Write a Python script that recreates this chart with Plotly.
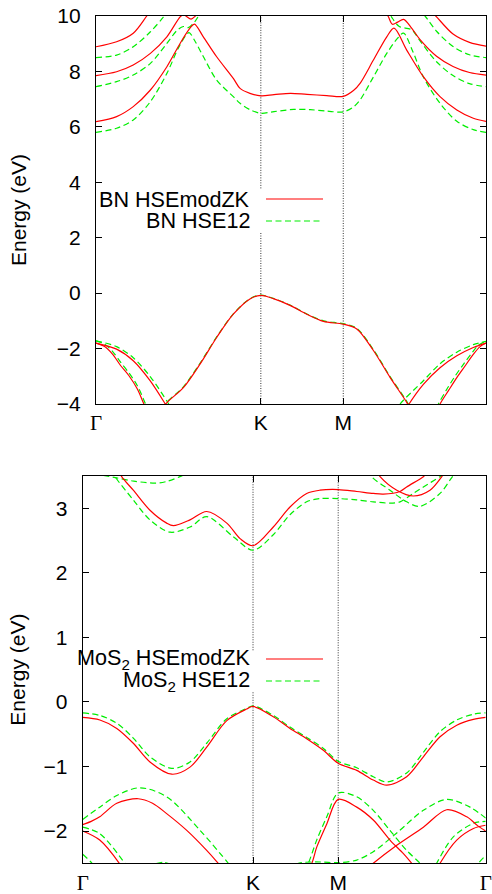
import math
import plotly.graph_objects as go

# ---------------------------------------------------------------
# k-path Gamma-K-M-Gamma of the hexagonal Brillouin zone
# (|GK| = 1, |KM| = 1/2, |MG| = sqrt(3)/2)
# ---------------------------------------------------------------
K_POS = 1.0
M_POS = 1.5
G_END = 1.5 + math.sqrt(3) / 2
TICK_POS = [0.0, K_POS, M_POS, G_END]
TICK_TXT = ["Γ", "K", "M", "Γ"]

# ---------------------------------------------------------------
# h-BN, HSEmodZK (red)
# ---------------------------------------------------------------
bn_zk_c1_k = [0, 0.125, 0.226, 0.33, 0.43, 0.51, 0.57, 0.597, 0.651, 0.732, 0.833, 0.874, 0.934, 1.0,
              1.08, 1.18, 1.28, 1.4, 1.5, 1.562, 1.602, 1.683, 1.764, 1.808, 1.885, 1.986, 2.087, 2.189,
              2.289, 2.366]
bn_zk_c1_e = [6.19, 6.37, 6.73, 7.33, 8.17, 9.01, 9.56, 9.71, 9.25, 8.53, 7.75, 7.39, 7.21, 7.12,
              7.16, 7.21, 7.17, 7.13, 7.10, 7.31, 7.57, 8.41, 9.25, 9.56, 8.77, 7.81, 7.09, 6.61,
              6.31, 6.20]
bn_zk_c2a_k = [0, 0.125, 0.226, 0.33, 0.43, 0.516, 0.535, 0.577, 0.607, 0.65]
bn_zk_c2a_e = [7.85, 7.99, 8.23, 8.65, 9.25, 10.0, 10.03, 9.89, 10.02, 10.3]
bn_zk_c2b_k = [1.746, 1.774, 1.798, 1.83, 1.866, 1.916, 1.966, 2.066, 2.166, 2.266, 2.366]
bn_zk_c2b_e = [10.3, 9.97, 9.70, 9.78, 9.88, 9.55, 9.15, 8.55, 8.18, 7.96, 7.87]
bn_zk_c3a_k = [0, 0.125, 0.226, 0.308, 0.36]
bn_zk_c3a_e = [8.89, 9.07, 9.38, 10.0, 10.4]
bn_zk_c3b_k = [2.0, 2.066, 2.166, 2.266, 2.366]
bn_zk_c3b_e = [10.4, 9.97, 9.35, 9.05, 8.91]
bn_zk_pi_k = [0.38, 0.42, 0.53, 0.631, 0.732, 0.833, 0.934, 1.0, 1.076, 1.177, 1.279, 1.38, 1.5,
              1.582, 1.683, 1.784, 1.885, 1.92]
bn_zk_pi_e = [-4.5, -4.02, -3.41, -2.56, -1.6, -0.76, -0.21, -0.08, -0.2, -0.44, -0.76, -1.02, -1.12,
              -1.29, -2.07, -3.04, -3.94, -4.3]
bn_zk_s1a_k = [0, 0.125, 0.226, 0.328, 0.419, 0.45]
bn_zk_s1a_e = [-1.8, -2.02, -2.44, -3.16, -3.99, -4.3]
bn_zk_s2a_k = [0, 0.05, 0.1, 0.15, 0.2, 0.25, 0.29, 0.32]
bn_zk_s2a_e = [-1.8, -1.92, -2.2, -2.62, -2.98, -3.45, -3.99, -4.4]
bn_zk_s1b_k = [1.87, 1.899, 1.986, 2.087, 2.189, 2.289, 2.366]
bn_zk_s1b_e = [-4.3, -4.0, -3.29, -2.69, -2.26, -1.96, -1.8]
bn_zk_s2b_k = [2.05, 2.087, 2.14, 2.19, 2.24, 2.29, 2.33, 2.366]
bn_zk_s2b_e = [-4.45, -4.0, -3.5, -3.04, -2.62, -2.2, -1.93, -1.8]

# ---------------------------------------------------------------
# h-BN, HSE12 (green)
# ---------------------------------------------------------------
bn_12_c1_k = [0, 0.125, 0.226, 0.33, 0.43, 0.5, 0.545, 0.565, 0.6, 0.65, 0.732, 0.833, 0.874, 0.934,
              1.0, 1.08, 1.2, 1.3, 1.4, 1.5, 1.562, 1.602, 1.683, 1.764, 1.83, 1.866, 1.92, 1.986,
              2.087, 2.189, 2.289, 2.366]
bn_12_c1_e = [5.80, 5.95, 6.25, 6.91, 7.93, 8.85, 9.3, 9.4, 9.1, 8.55, 7.69, 7.09, 6.85, 6.62,
              6.49, 6.55, 6.63, 6.62, 6.57, 6.54, 6.72, 6.97, 7.8, 8.65, 9.2, 9.38, 8.75, 7.8,
              6.85, 6.2, 5.9, 5.80]
bn_12_c2a_k = [0, 0.125, 0.226, 0.33, 0.43, 0.49, 0.53, 0.56, 0.6, 0.64]
bn_12_c2a_e = [7.45, 7.63, 7.87, 8.29, 9.01, 9.47, 9.62, 9.58, 9.8, 10.2]
bn_12_c2b_k = [1.76, 1.8, 1.84, 1.916, 1.966, 2.066, 2.166, 2.266, 2.366]
bn_12_c2b_e = [10.3, 9.9, 9.62, 9.5, 9.1, 8.35, 7.85, 7.56, 7.45]
bn_12_c3a_k = [0, 0.125, 0.226, 0.33, 0.41, 0.45]
bn_12_c3a_e = [8.5, 8.59, 8.89, 9.43, 9.97, 10.3]
bn_12_c3b_k = [1.95, 1.996, 2.066, 2.166, 2.266, 2.366]
bn_12_c3b_e = [10.3, 10.0, 9.45, 8.9, 8.6, 8.5]
bn_12_pi_k = bn_zk_pi_k
bn_12_pi_e = [-4.48, -4.0, -3.38, -2.53, -1.58, -0.75, -0.2, -0.07, -0.19, -0.43, -0.75, -1.0, -1.1,
              -1.27, -2.04, -3.01, -3.9, -4.28]
bn_12_s1a_k = [0, 0.125, 0.226, 0.33, 0.44, 0.47]
bn_12_s1a_e = [-1.72, -1.93, -2.33, -3.02, -3.99, -4.3]
bn_12_s2a_k = [0, 0.05, 0.1, 0.15, 0.2, 0.25, 0.30, 0.33]
bn_12_s2a_e = [-1.72, -1.83, -2.1, -2.5, -2.88, -3.33, -3.99, -4.4]
bn_12_s1b_k = [1.815, 1.845, 1.986, 2.087, 2.189, 2.289, 2.366]
bn_12_s1b_e = [-4.3, -4.0, -3.16, -2.55, -2.13, -1.86, -1.74]
bn_12_s2b_k = [2.04, 2.077, 2.13, 2.18, 2.23, 2.28, 2.32, 2.366]
bn_12_s2b_e = [-4.45, -4.0, -3.45, -2.98, -2.56, -2.16, -1.88, -1.74]

# ---------------------------------------------------------------
# MoS2, HSEmodZK (red)
# ---------------------------------------------------------------
mos_zk_c1_k = [0.21, 0.229, 0.297, 0.395, 0.493, 0.532, 0.63, 0.728, 0.846, 0.924, 1.0, 1.119, 1.217,
               1.315, 1.393, 1.5, 1.609, 1.706, 1.765, 1.863, 1.902, 2.0, 2.03]
mos_zk_c1_e = [3.6, 3.49, 3.28, 2.97, 2.77, 2.73, 2.82, 2.95, 2.77, 2.53, 2.42, 2.71, 3.02,
               3.23, 3.28, 3.29, 3.26, 3.23, 3.22, 3.26, 3.33, 3.49, 3.56]
mos_zk_c2_k = [1.72, 1.746, 1.844, 1.941, 2.039, 2.108, 2.13]
mos_zk_c2_e = [3.6, 3.49, 3.28, 3.19, 3.28, 3.49, 3.58]
mos_zk_v1_k = [0, 0.101, 0.2, 0.297, 0.395, 0.523, 0.63, 0.728, 0.846, 0.963, 1.0, 1.119, 1.217,
               1.315, 1.413, 1.5, 1.609, 1.706, 1.785, 1.902, 2.0, 2.098, 2.196, 2.294, 2.366]
mos_zk_v1_e = [-0.24, -0.28, -0.41, -0.64, -0.93, -1.12, -1.01, -0.7, -0.29, -0.11, -0.07, -0.23, -0.41,
               -0.57, -0.75, -0.95, -1.06, -1.21, -1.29, -1.16, -0.85, -0.54, -0.36, -0.27, -0.24]
mos_zk_v2a_k = [0, 0.05, 0.1, 0.2, 0.326, 0.41, 0.493, 0.611, 0.728, 0.796, 0.85]
mos_zk_v2a_e = [-1.9, -1.85, -1.78, -1.57, -1.5, -1.57, -1.73, -1.99, -2.3, -2.5, -2.66]
mos_zk_v2b_k = [1.29, 1.345, 1.374, 1.433, 1.5, 1.609, 1.706, 1.804, 1.883, 1.932, 1.98]
mos_zk_v2b_e = [-2.75, -2.5, -2.25, -1.89, -1.51, -1.63, -1.83, -2.14, -2.35, -2.5, -2.65]
mos_zk_v3_k = [0, 0.1, 0.215, 0.25]
mos_zk_v3_e = [-2.0, -2.14, -2.5, -2.65]
mos_zk_v5_k = [1.64, 1.706, 1.844, 2.0, 2.137, 2.255, 2.32, 2.366]
mos_zk_v5_e = [-2.65, -2.5, -2.22, -1.94, -1.67, -1.78, -1.92, -2.0]
mos_zk_v6_k = [2.07, 2.098, 2.196, 2.294, 2.366]
mos_zk_v6_e = [-2.65, -2.5, -2.14, -1.96, -1.91]

# ---------------------------------------------------------------
# MoS2, HSE12 (green)
# ---------------------------------------------------------------
mos_12_c1_k = [0.17, 0.19, 0.297, 0.395, 0.513, 0.63, 0.728, 0.884, 1.0, 1.119, 1.217, 1.315, 1.393,
               1.5, 1.609, 1.706, 1.804, 1.863, 1.941, 2.0, 2.098, 2.13]
mos_12_c1_e = [3.6, 3.49, 3.13, 2.82, 2.63, 2.71, 2.87, 2.56, 2.35, 2.59, 2.9, 3.1, 3.15,
               3.15, 3.13, 3.1, 3.08, 3.1, 3.23, 3.33, 3.49, 3.55]
mos_12_c2_k = [1.68, 1.697, 1.804, 1.902, 1.98, 2.098, 2.157, 2.19]
mos_12_c2_e = [3.6, 3.49, 3.28, 3.1, 3.03, 3.23, 3.44, 3.56]
mos_12_c3_k = [0.12, 0.2, 0.3, 0.434, 0.5, 0.571, 0.62]
mos_12_c3_e = [3.51, 3.47, 3.42, 3.39, 3.42, 3.49, 3.55]
mos_12_v1_k = mos_zk_v1_k
mos_12_v1_e = [-0.17, -0.21, -0.33, -0.56, -0.85, -1.03, -0.93, -0.64, -0.26, -0.1, -0.06, -0.21, -0.39,
               -0.55, -0.72, -0.92, -1.02, -1.16, -1.24, -1.1, -0.78, -0.46, -0.28, -0.19, -0.17]
mos_12_v2a_k = [0, 0.1, 0.2, 0.336, 0.493, 0.689, 0.855, 0.9]
mos_12_v2a_e = [-1.82, -1.63, -1.45, -1.33, -1.47, -1.99, -2.5, -2.65]
mos_12_v2b_k = [1.28, 1.325, 1.374, 1.433, 1.5, 1.609, 1.706, 1.804, 1.902, 1.981, 2.03]
mos_12_v2b_e = [-2.75, -2.5, -2.14, -1.78, -1.41, -1.47, -1.68, -1.99, -2.3, -2.5, -2.65]
mos_12_v3_k = [0, 0.1, 0.248, 0.28]
mos_12_v3_e = [-1.94, -2.04, -2.5, -2.62]
mos_12_v4a_k = [0, 0.055, 0.08]
mos_12_v4a_e = [-2.36, -2.5, -2.6]
mos_12_v4b_k = [2.3, 2.323, 2.366]
mos_12_v4b_e = [-2.6, -2.5, -2.38]
mos_12_v5_k = [1.2, 1.286, 1.4, 1.5, 1.609, 1.706, 1.844, 2.0, 2.137, 2.274, 2.366]
mos_12_v5_e = [-2.56, -2.49, -2.48, -2.49, -2.45, -2.32, -2.03, -1.68, -1.51, -1.63, -1.8]
mos_12_v6_k = [2.05, 2.078, 2.176, 2.294, 2.366]
mos_12_v6_e = [-2.65, -2.5, -2.09, -1.88, -1.85]
mos_12_v7_k = [0.38, 0.47, 0.56]
mos_12_v7_e = [-2.56, -2.485, -2.56]

BN_RED = [(bn_zk_c1_k, bn_zk_c1_e), (bn_zk_c2a_k, bn_zk_c2a_e), (bn_zk_c2b_k, bn_zk_c2b_e),
          (bn_zk_c3a_k, bn_zk_c3a_e), (bn_zk_c3b_k, bn_zk_c3b_e), (bn_zk_pi_k, bn_zk_pi_e),
          (bn_zk_s1a_k, bn_zk_s1a_e), (bn_zk_s2a_k, bn_zk_s2a_e), (bn_zk_s1b_k, bn_zk_s1b_e),
          (bn_zk_s2b_k, bn_zk_s2b_e)]
BN_GREEN = [(bn_12_c1_k, bn_12_c1_e), (bn_12_c2a_k, bn_12_c2a_e), (bn_12_c2b_k, bn_12_c2b_e),
            (bn_12_c3a_k, bn_12_c3a_e), (bn_12_c3b_k, bn_12_c3b_e), (bn_12_pi_k, bn_12_pi_e),
            (bn_12_s1a_k, bn_12_s1a_e), (bn_12_s2a_k, bn_12_s2a_e), (bn_12_s1b_k, bn_12_s1b_e),
            (bn_12_s2b_k, bn_12_s2b_e)]
MOS_RED = [(mos_zk_c1_k, mos_zk_c1_e), (mos_zk_c2_k, mos_zk_c2_e), (mos_zk_v1_k, mos_zk_v1_e),
           (mos_zk_v2a_k, mos_zk_v2a_e), (mos_zk_v2b_k, mos_zk_v2b_e), (mos_zk_v3_k, mos_zk_v3_e),
           (mos_zk_v5_k, mos_zk_v5_e), (mos_zk_v6_k, mos_zk_v6_e)]
MOS_GREEN = [(mos_12_c1_k, mos_12_c1_e), (mos_12_c2_k, mos_12_c2_e), (mos_12_c3_k, mos_12_c3_e),
             (mos_12_v1_k, mos_12_v1_e), (mos_12_v2a_k, mos_12_v2a_e), (mos_12_v2b_k, mos_12_v2b_e),
             (mos_12_v3_k, mos_12_v3_e), (mos_12_v4a_k, mos_12_v4a_e), (mos_12_v4b_k, mos_12_v4b_e),
             (mos_12_v5_k, mos_12_v5_e), (mos_12_v6_k, mos_12_v6_e), (mos_12_v7_k, mos_12_v7_e)]

RED = "#ff0000"
GREEN = "#00ee00"
GREEN_DASH = "6px,3.5px"
SANS = "Liberation Sans, Arial, sans-serif"

W, H = 492, 894
fig = go.Figure()


def add_bands(bands, color, dash, xa, ya):
    for k, e in bands:
        fig.add_trace(go.Scatter(
            x=k, y=e, mode="lines", xaxis=xa, yaxis=ya, showlegend=False,
            line=dict(color=color, width=1.2, dash=dash, shape="spline", smoothing=0.9),
            hoverinfo="skip"))


add_bands(BN_GREEN, GREEN, GREEN_DASH, "x", "y")
add_bands(BN_RED, RED, "solid", "x", "y")
add_bands(MOS_GREEN, GREEN, GREEN_DASH, "x2", "y2")
add_bands(MOS_RED, RED, "solid", "x2", "y2")

# panel frames in pixels: (left, right, top, bottom)
TOP_BOX = (96, 486, 16, 404)
BOT_BOX = (82.7, 485.7, 476, 863.3)


def xdom(box):
    return [box[0] / W, box[1] / W]


def ydom(box):
    return [1 - box[3] / H, 1 - box[2] / H]


gamma_html = '<span style="font-family:Liberation Serif">Γ</span>'
tick_text = [gamma_html if t == "Γ" else t for t in TICK_TXT]

xcommon = dict(range=[0, G_END], tickmode="array", tickvals=TICK_POS, ticktext=tick_text,
               showline=True, linecolor="black", linewidth=1.3, mirror="ticks",
               ticks="inside", ticklen=6, tickcolor="black", showgrid=False, zeroline=False,
               automargin=False, tickfont=dict(family=SANS, size=21, color="black"),
               ticklabelstandoff=0)
ycommon = dict(showline=True, linecolor="black", linewidth=1.3, mirror="ticks",
               ticks="inside", ticklen=6, tickcolor="black", showgrid=False, zeroline=False,
               automargin=False, tickfont=dict(family=SANS, size=21, color="black"),
               ticklabelstandoff=10)

fig.update_layout(
    width=W, height=H, margin=dict(l=0, r=0, t=0, b=0, autoexpand=False),
    paper_bgcolor="white", plot_bgcolor="white", showlegend=False,
    xaxis=dict(domain=xdom(TOP_BOX), anchor="y", **xcommon),
    yaxis=dict(domain=ydom(TOP_BOX), anchor="x", range=[-4, 10], tickvals=[-4, -2, 0, 2, 4, 6, 8, 10],
               **ycommon),
    xaxis2=dict(domain=xdom(BOT_BOX), anchor="y2", **xcommon),
    yaxis2=dict(domain=ydom(BOT_BOX), anchor="x2", range=[-2.5, 3.5], tickvals=[-2, -1, 0, 1, 2, 3],
                **ycommon),
)

# dotted guide lines at K and M; the K line is broken where the key sits
dot = dict(color="#333333", width=1, dash="1px,1.5px")
shapes = []
for xr, yr, ylo, yhi, gap in (("x", "y", -4, 10, (2.19, 3.78)), ("x2", "y2", -2.5, 3.5, (0.15, 0.80))):
    shapes.append(dict(type="line", xref=xr, yref=yr, x0=M_POS, x1=M_POS, y0=ylo, y1=yhi, line=dot,
                       layer="below"))
    shapes.append(dict(type="line", xref=xr, yref=yr, x0=K_POS, x1=K_POS, y0=ylo, y1=gap[0], line=dot,
                       layer="below"))
    shapes.append(dict(type="line", xref=xr, yref=yr, x0=K_POS, x1=K_POS, y0=gap[1], y1=yhi, line=dot,
                       layer="below"))

# key entries: text right-aligned, line sample to its right
KEY_TEXT_X = 251.5
KEY_LINE = (266, 323)
keys = [
    ("BN HSEmodZK", 199, RED, "solid"),
    ("BN HSE12", 221, GREEN, GREEN_DASH),
    ("MoS<sub>2</sub> HSEmodZK", 659, RED, "solid"),
    ("MoS<sub>2</sub> HSE12", 681, GREEN, GREEN_DASH),
]
annotations = []
for text, ypx, color, dash in keys:
    annotations.append(dict(text=text, xref="paper", yref="paper", x=KEY_TEXT_X / W, y=1 - ypx / H,
                            xanchor="right", yanchor="middle", showarrow=False,
                            font=dict(family=SANS, size=21.6, color="black")))
    shapes.append(dict(type="line", xref="paper", yref="paper", x0=KEY_LINE[0] / W, x1=KEY_LINE[1] / W,
                       y0=1 - ypx / H, y1=1 - ypx / H, line=dict(color=color, width=1.2, dash=dash)))

# y-axis titles
for ymid in ((TOP_BOX[2] + TOP_BOX[3]) / 2, (BOT_BOX[2] + BOT_BOX[3]) / 2):
    annotations.append(dict(text="Energy (eV)", xref="paper", yref="paper", x=18 / W, y=1 - ymid / H,
                            xanchor="center", yanchor="middle", textangle=-90, showarrow=False,
                            font=dict(family=SANS, size=21, color="black")))

fig.update_layout(shapes=shapes, annotations=annotations)
fig.write_html("out.html")
